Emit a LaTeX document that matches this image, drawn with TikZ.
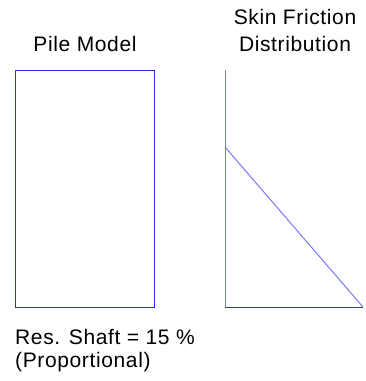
\documentclass[tikz,border=0pt]{standalone}
\usepackage{fontspec}
\setmainfont{Liberation Sans}[LetterSpace=3]
\definecolor{pileblue}{RGB}{40,40,255}
\definecolor{lightblue}{RGB}{120,120,255}
\begin{document}
\begin{tikzpicture}[x=1pt,y=-1pt,
  lbl/.style={font=\fontsize{21}{24}\selectfont, inner sep=0pt, anchor=base},
  pileline/.style={draw=pileblue, line width=1pt},
  distline/.style={draw=lightblue, line width=1pt}]
\useasboundingbox (0,0) rectangle (365,381);
% labels
\node[lbl] (pm) at (85,51) {Pile Model};
\node[lbl] (sf) at (295,24) {Skin Friction};
\node[lbl] (di) at (295,51) {Distribution};
\node[lbl, anchor=base west] (rs) at (15,344) {Res. Shaft = 15 \%};
\node[lbl, anchor=base west] (pr) at (15,367) {(Proportional)};
% pile model
\coordinate (p1) at (15,70);
\coordinate (p2) at (154,307);
\draw[pileline] (p1) rectangle (p2);
% skin friction distribution
\coordinate (top) at (225,70);
\coordinate (mid) at (225,147);
\coordinate (bl) at (225,307);
\coordinate (br) at (363,307);
\draw[distline] (top) -- (bl);
\draw[distline] (mid) -- (br);
\draw[pileline] (bl) -- (br);
\end{tikzpicture}
\end{document}
